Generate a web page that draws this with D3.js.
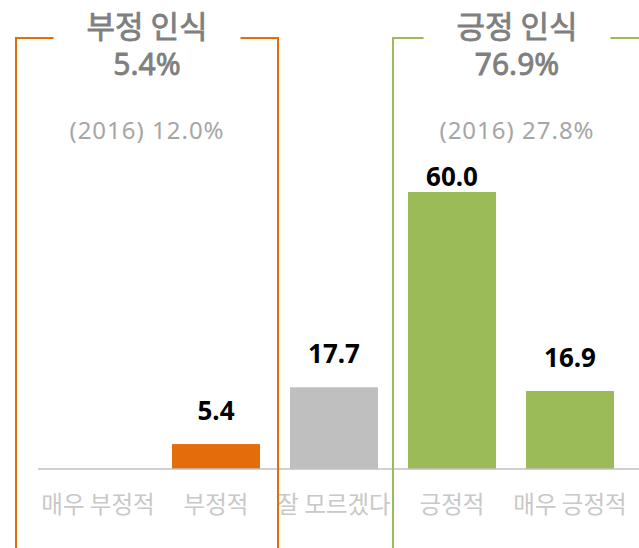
<!DOCTYPE html>
<html>
<head>
<meta charset="utf-8">
<script src="https://cdn.jsdelivr.net/npm/d3@7"></script>
<style>
  body { margin: 0; background: #fff; }
  svg { display: block; }
</style>
</head>
<body>
<div id="chart"></div>
<script>
// 카테고리와 값
var categories = ['매우 부정적', '부정적', '잘 모르겠다', '긍정적', '매우 긍정적']
var values = [0, 5.4, 17.7, 60.0, 16.9]
var barColors = ['#e46c0a', '#e46c0a', '#bfbfbf', '#9bbb59', '#9bbb59']

// 그룹 (부정 / 긍정)
var groupNames = ['부정 인식', '긍정 인식']
var groupTotals = ['5.4%', '76.9%']
var groupPrev = ['(2016) 12.0%', '(2016) 27.8%']
var groupColors = ['#e46c0a', '#9bbb59']

var width = 639
var height = 548
var baseY = 469

var svg = d3.select('#chart').append('svg').attr('width', width).attr('height', height)

var x = d3.scaleBand().domain(categories).range([39, 629]).paddingInner(0.254).paddingOuter(0.127)
var y = d3.scaleLinear().domain([0, 60]).range([baseY, 192])

var rows = categories.map((c, i) => ({ cat: c, value: values[i], color: barColors[i] }))

// 막대
svg.selectAll('rect.bar').data(rows).join('rect')
    .attr('class', 'bar')
    .attr('x', d => x(d.cat))
    .attr('width', x.bandwidth())
    .attr('y', d => y(d.value))
    .attr('height', d => baseY - y(d.value))
    .attr('fill', d => d.color)

// 축선
svg.append('line')
    .attr('x1', 38).attr('x2', width)
    .attr('y1', baseY).attr('y2', baseY)
    .attr('stroke', '#c0c0c0').attr('stroke-width', 1.5)

// 값 라벨 (0은 표시 안함)
svg.selectAll('text.val').data(rows.filter(d => d.value > 0)).join('text')
    .attr('class', 'val')
    .attr('x', d => x(d.cat) + x.bandwidth() / 2)
    .attr('y', d => Math.max(y(d.value) - 24, 186))
    .attr('text-anchor', 'middle')
    .attr('font-family', '"Noto Sans", sans-serif')
    .attr('font-weight', 'bold')
    .attr('font-size', 26)
    .attr('fill', '#000')
    .text(d => d.value.toFixed(1))

// 카테고리 라벨
svg.selectAll('text.cat').data(categories).join('text')
    .attr('class', 'cat')
    .attr('x', d => x(d) + x.bandwidth() / 2)
    .attr('y', 513)
    .attr('text-anchor', 'middle')
    .attr('font-family', '"Noto Sans CJK KR", sans-serif')
    .attr('font-size', 23.5)
    .attr('fill', '#c8c8c8')
    .text(d => d)

// 괄호 선 위치 (스케일 기준)
var gap = x.step() - x.bandwidth()
var brackets = [
    { left: x(categories[0]) - 38, right: x(categories[1]) + x.bandwidth() + 18 },
    { left: x(categories[3]) - gap / 2, right: width + 2 }
]
var topY = 38
var titleGap = 187

brackets.forEach(function (b, i) {
    var cx = (b.left + b.right) / 2
    var g = svg.append('g')
    var c = groupColors[i]
    var pts1 = [[b.left, height], [b.left, topY], [cx - titleGap / 2, topY]]
    var pts2 = [[cx + titleGap / 2, topY], [b.right, topY], [b.right, height]]
    ;[pts1, pts2].forEach(function (p) {
        g.append('path')
            .attr('d', d3.line()(p))
            .attr('fill', 'none')
            .attr('stroke', c)
            .attr('stroke-width', 2)
    })

    g.append('text')
        .attr('x', cx).attr('y', 38)
        .attr('text-anchor', 'middle')
        .attr('font-family', '"Noto Sans CJK KR", sans-serif')
        .attr('font-size', 31)
        .attr('fill', '#7f7f7f')
        .attr('stroke', '#7f7f7f').attr('stroke-width', 0.8)
        .text(groupNames[i])

    g.append('text')
        .attr('x', cx).attr('y', 75)
        .attr('text-anchor', 'middle')
        .attr('font-family', '"Noto Sans", sans-serif')
        .attr('font-size', 30)
        .attr('fill', '#7f7f7f')
        .attr('stroke', '#7f7f7f').attr('stroke-width', 0.8)
        .text(groupTotals[i])

    g.append('text')
        .attr('x', cx).attr('y', 139)
        .attr('text-anchor', 'middle')
        .attr('font-family', '"Noto Sans", sans-serif')
        .attr('font-size', 24)
        .attr('letter-spacing', 1)
        .attr('fill', '#a6a6a6')
        .text(groupPrev[i])
})
</script>
</body>
</html>
